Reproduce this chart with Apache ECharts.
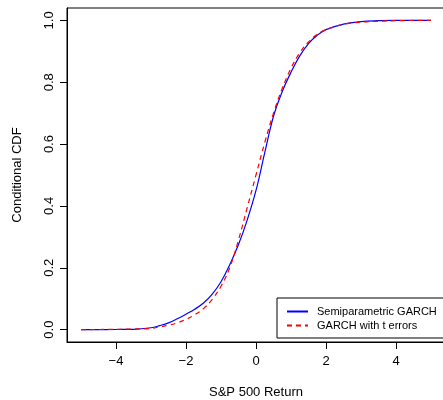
<!DOCTYPE html>
<html>
<head>
<meta charset="utf-8">
<script src="https://cdn.jsdelivr.net/npm/echarts@6/dist/echarts.min.js"></script>
<style>
  html, body { margin: 0; padding: 0; background: #fff; }
  #chart { width: 443px; height: 400px; }
</style>
</head>
<body>
<div id="chart"></div>
<script>
// x grid of S&P 500 returns
var returns = [-5, -4, -3.5, -3, -2.75, -2.5, -2.25, -2, -1.75, -1.5, -1.25, -1, -0.75, -0.5, -0.25,
  0, 0.25, 0.5, 0.75, 1, 1.25, 1.5, 1.75, 2, 2.5, 3, 3.5, 4, 5];
// semiparametric GARCH conditional CDF
var semiCdf = [0, 0.0005, 0.001, 0.006, 0.013, 0.022, 0.035, 0.050, 0.066, 0.086, 0.115, 0.155, 0.21, 0.275, 0.355,
  0.45, 0.572, 0.69, 0.77, 0.832, 0.885, 0.925, 0.952, 0.97, 0.988, 0.996, 0.999, 1.0, 1.0];
// GARCH with t errors conditional CDF
var tCdf = [0, 0.001, 0.002, 0.004, 0.009, 0.014, 0.022, 0.033, 0.048, 0.068, 0.098, 0.14, 0.20, 0.29, 0.395,
  0.5, 0.605, 0.70, 0.78, 0.845, 0.895, 0.93, 0.955, 0.97, 0.987, 0.994, 0.997, 0.999, 1.0];
var xTicks = [-4, -2, 0, 2, 4];
var yTicks = [0, 0.2, 0.4, 0.6, 0.8, 1.0];

function pairs(xs, ys) {
  var out = [];
  for (var i = 0; i < xs.length; i++) out.push([xs[i], ys[i]]);
  return out;
}

var font = 'Liberation Sans, Arial, sans-serif';
var chart = echarts.init(document.getElementById('chart'));
chart.setOption({
  animation: false,
  backgroundColor: '#fff',
  grid: {
    left: 67, top: 8, right: -2, bottom: 58,
    containLabel: false,
    outerBoundsMode: 'none',
    show: true, borderColor: '#000', borderWidth: 1, backgroundColor: 'transparent'
  },
  xAxis: {
    type: 'value',
    min: -5.4, max: 5.4,
    name: 'S&P 500 Return',
    nameLocation: 'middle',
    nameGap: 44,
    nameTextStyle: { fontFamily: font, fontSize: 13, color: '#000' },
    axisLine: { show: true, onZero: false, lineStyle: { color: '#000', width: 1 } },
    axisTick: { show: true, length: 7, customValues: xTicks, lineStyle: { color: '#000' } },
    axisLabel: {
      customValues: xTicks, margin: 13,
      fontFamily: font, fontSize: 13, color: '#000',
      formatter: function (v) { return v < 0 ? '\u2212' + Math.abs(v) : String(v); }
    },
    splitLine: { show: false }
  },
  yAxis: {
    type: 'value',
    min: -0.04, max: 1.04,
    name: 'Conditional CDF',
    nameLocation: 'middle',
    nameGap: 43,
    nameTextStyle: { fontFamily: font, fontSize: 13, color: '#000' },
    axisLine: { show: true, onZero: false, lineStyle: { color: '#000', width: 1 } },
    axisTick: { show: true, length: 7, customValues: yTicks, lineStyle: { color: '#000' } },
    axisLabel: {
      customValues: yTicks, margin: 11, rotate: 90,
      fontFamily: font, fontSize: 13, color: '#000',
      formatter: function (v) { return v.toFixed(1); }
    },
    splitLine: { show: false }
  },
  legend: {
    left: 277, top: 298,
    orient: 'vertical',
    backgroundColor: '#fff',
    borderColor: '#000', borderWidth: 1, borderRadius: 0,
    padding: [8, 8, 7, 9],
    itemWidth: 21, itemHeight: 10, itemGap: 3,
    itemStyle: { color: 'transparent', borderWidth: 0 },
    textStyle: { fontFamily: font, fontSize: 11, color: '#000', padding: [0, 0, 0, 4] },
    data: ['Semiparametric GARCH', 'GARCH with t errors']
  },
  series: [
    {
      name: 'Semiparametric GARCH',
      type: 'line',
      data: pairs(returns, semiCdf),
      symbol: 'none',
      smooth: 0.4,
      lineStyle: { color: '#0000ff', width: 1.2 },
      itemStyle: { color: '#0000ff' }
    },
    {
      name: 'GARCH with t errors',
      type: 'line',
      data: pairs(returns, tCdf),
      symbol: 'none',
      smooth: 0.4,
      lineStyle: { color: '#ff0000', width: 1.2, type: [5, 4] },
      itemStyle: { color: '#ff0000' }
    }
  ]
});
</script>
</body>
</html>
